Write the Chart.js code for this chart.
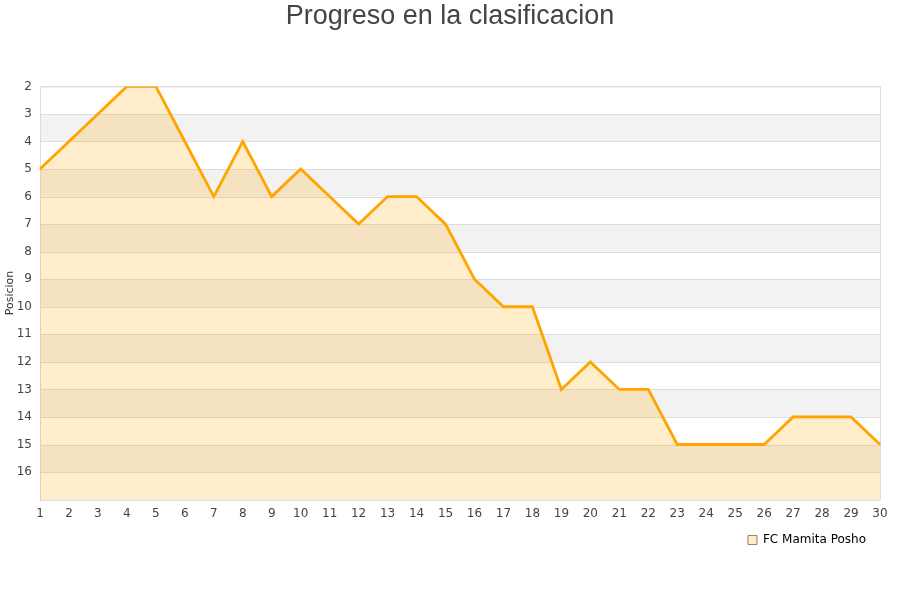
<!DOCTYPE html>
<html>
<head>
<meta charset="utf-8">
<script src="https://cdn.jsdelivr.net/npm/chart.js@4/dist/chart.umd.min.js"></script>
<style>
  body { margin: 0; background: #fff; }
  #wrap { width: 900px; height: 600px; }
</style>
</head>
<body>
<div id="wrap"><canvas id="chart" width="900" height="600"></canvas></div>
<script>
const jornadas = [1,2,3,4,5,6,7,8,9,10,11,12,13,14,15,16,17,18,19,20,21,22,23,24,25,26,27,28,29,30];
const posiciones = [5,4,3,2,2,4,6,4,6,5,6,7,6,6,7,9,10,10,13,12,13,13,15,15,15,15,14,14,14,15];
const equipo = 'FC Mamita Posho';

// franjas grises alternas + borde del area
const bandas = {
    id: 'bandas',
    beforeDraw(chart) {
        // la leyenda queda un poco separada del borde derecho
        if (chart.legend) chart.legend.right = chart.chartArea.right - 8;
    },
    beforeDatasetsDraw(chart) {
        const { ctx, chartArea, scales } = chart;
        const y = scales.y;
        ctx.save();
        ctx.fillStyle = '#f2f2f2';
        for (let v = 3; v < 17; v += 2) {
            const a = y.getPixelForValue(v), b = y.getPixelForValue(v + 1);
            ctx.fillRect(chartArea.left, a, chartArea.right - chartArea.left, b - a);
        }
        ctx.strokeStyle = '#dddddd';
        ctx.lineWidth = 1;
        for (let v = 2; v <= 17; v++) {
            const p = Math.round(y.getPixelForValue(v)) + 0.5;
            ctx.beginPath();
            ctx.moveTo(chartArea.left, p);
            ctx.lineTo(chartArea.right, p);
            ctx.stroke();
        }
        ctx.strokeRect(chartArea.left + 0.5, chartArea.top + 0.5, chartArea.right - chartArea.left, chartArea.bottom - chartArea.top);
        ctx.restore();
    }
};

new Chart(document.getElementById('chart'), {
    type: 'line',
    data: {
        labels: jornadas,
        datasets: [{
            label: equipo,
            data: posiciones,
            borderColor: '#ffa500',
            backgroundColor: 'rgba(255,165,0,0.2)',
            borderWidth: 2.8,
            pointRadius: 0,
            tension: 0,
            fill: 'start'
        }]
    },
    options: {
        responsive: false,
        animation: false,
        layout: { padding: { left: 0, right: 0, top: 0, bottom: 44 } },
        plugins: {
            title: {
                display: true,
                text: 'Progreso en la clasificacion',
                color: '#444',
                font: { family: 'Liberation Sans', size: 27, weight: 'normal' },
                padding: { top: 0, bottom: 54 }
            },
            legend: {
                position: 'bottom',
                align: 'end',
                fullSize: false,
                labels: {
                    boxWidth: 9,
                    boxHeight: 9,
                    color: '#111',
                    font: { family: 'DejaVu Sans', size: 12 },
                    padding: 6,
                    generateLabels: chart => [{
                        text: equipo,
                        fillStyle: 'rgba(255,165,0,0.2)',
                        strokeStyle: '#a08060',
                        lineWidth: 1,
                        datasetIndex: 0
                    }]
                }
            },
            tooltip: { enabled: false }
        },
        scales: {
            x: {
                grid: { display: false, drawTicks: false },
                border: { display: false },
                ticks: { color: '#444', font: { family: 'DejaVu Sans', size: 12 }, maxRotation: 0, autoSkip: false, padding: 7 }
            },
            y: {
                reverse: true,
                min: 2,
                max: 17,
                grid: { display: false, drawTicks: false },
                border: { display: false },
                title: { display: true, text: 'Posicion', color: '#333', font: { family: 'DejaVu Sans', size: 11 }, padding: { top: 4, bottom: 0 } },
                ticks: {
                    stepSize: 1,
                    color: '#444',
                    font: { family: 'DejaVu Sans', size: 12 },
                    padding: 8,
                    callback: v => v === 17 ? '' : v
                },
                afterFit: s => { s.width = 40; }
            },
            derecha: {
                position: 'right',
                display: true,
                grid: { display: false, drawTicks: false },
                border: { display: false },
                ticks: { display: false },
                afterFit: s => { s.width = 20; }
            }
        }
    },
    plugins: [bandas]
});
</script>
</body>
</html>
